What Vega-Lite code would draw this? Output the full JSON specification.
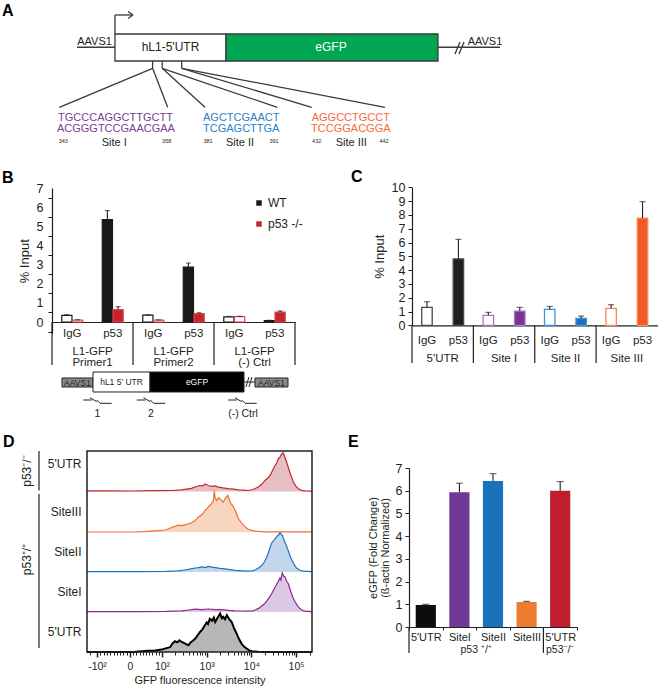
{
 "$schema": "https://vega.github.io/schema/vega-lite/v6.json",
 "width": 667,
 "height": 690,
 "autosize": {"type": "none"},
 "padding": 0,
 "background": "white",
 "config": {
  "view": {"stroke": null},
  "font": "Liberation Sans",
  "axis": {"grid": false, "labelFont": "Liberation Sans", "titleFont": "Liberation Sans", "labelColor": "#231f20", "titleColor": "#231f20", "domainColor": "#231f20", "tickColor": "#231f20", "titleFontWeight": "normal"},
  "legend": {"labelFont": "Liberation Sans"}
 },
 "resolve": {
  "scale": {"x": "independent", "y": "independent", "xOffset": "independent", "fill": "independent", "stroke": "independent", "color": "independent"},
  "axis": {"x": "independent", "y": "independent"},
  "legend": {"fill": "independent", "stroke": "independent", "color": "independent"}
 },
 "layer": [
  {
   "data": {"values": [
    {"k":"box","part":"utr","x":8.98,"x2":35.22,"y":63.57,"y2":82.86},
    {"k":"box","part":"gfp","x":35.22,"x2":85.34,"y":63.57,"y2":82.86},
    {"k":"line","x":0,"x2":8.98,"y":73.4,"y2":73.4},
    {"k":"line","x":85.34,"x2":100,"y":73.4,"y2":73.4},
    {"k":"line","x":8.98,"x2":8.98,"y":82.86,"y2":96.43},
    {"k":"line","x":8.98,"x2":13.24,"y":96.43,"y2":96.43},
    {"k":"line","x":12.06,"x2":13.24,"y":98.93,"y2":96.43},
    {"k":"line","x":12.06,"x2":13.24,"y":93.93,"y2":96.43},
    {"k":"line","x":89.36,"x2":90.54,"y":68.57,"y2":77.14},
    {"k":"line","x":90.31,"x2":91.49,"y":68.57,"y2":77.14},
    {"k":"line","x":17.87,"x2":17.87,"y":63.57,"y2":58.36},
    {"k":"line","x":20.14,"x2":20.14,"y":63.57,"y2":58.36},
    {"k":"line","x":24.75,"x2":24.75,"y":63.57,"y2":58.36},
    {"k":"line","x":17.87,"x2":-4.18,"y":58.36,"y2":30.5},
    {"k":"line","x":17.87,"x2":21.44,"y":58.36,"y2":30.5},
    {"k":"line","x":20.14,"x2":30.26,"y":58.36,"y2":30.5},
    {"k":"line","x":20.14,"x2":47.36,"y":58.36,"y2":30.5},
    {"k":"line","x":24.75,"x2":55.48,"y":58.36,"y2":30.5},
    {"k":"line","x":24.75,"x2":72.8,"y":58.36,"y2":30.5},
    {"k":"txt","fs":"m","role":"dark","t":"AAVS1","x":4.14,"y":76.8},
    {"k":"txt","fs":"m","role":"dark","t":"AAVS1","x":96.45,"y":76.8},
    {"k":"txt","fs":"l","role":"dark","t":"hL1-5'UTR","x":22.1,"y":73.4},
    {"k":"txt","fs":"l","role":"white","t":"eGFP","x":60.05,"y":73.4},
    {"k":"txt","fs":"m","role":"s1","t":"TGCCCAGGCTTGCTT","x":9.1,"y":23.07},
    {"k":"txt","fs":"m","role":"s1","t":"ACGGGTCCGAACGAA","x":9.2,"y":14.76},
    {"k":"txt","fs":"m","role":"s2","t":"AGCTCGAACT","x":38.82,"y":23.07},
    {"k":"txt","fs":"m","role":"s2","t":"TCGAGCTTGA","x":38.82,"y":14.76},
    {"k":"txt","fs":"m","role":"s3","t":"AGGCCTGCCT","x":64.73,"y":23.07},
    {"k":"txt","fs":"m","role":"s3","t":"TCCGGACGGA","x":64.73,"y":14.76},
    {"k":"txt","fs":"s","role":"dark","t":"343","x":-3.24,"y":6.64},
    {"k":"txt","fs":"s","role":"dark","t":"358","x":21.2,"y":6.64},
    {"k":"txt","fs":"s","role":"dark","t":"381","x":30.97,"y":6.64},
    {"k":"txt","fs":"s","role":"dark","t":"391","x":46.57,"y":6.64},
    {"k":"txt","fs":"s","role":"dark","t":"432","x":56.66,"y":6.64},
    {"k":"txt","fs":"s","role":"dark","t":"442","x":72.58,"y":6.64},
    {"k":"txt","fs":"m","role":"dark","t":"Site I","x":8.79,"y":5.0},
    {"k":"txt","fs":"m","role":"dark","t":"Site II","x":38.53,"y":5.0},
    {"k":"txt","fs":"m","role":"dark","t":"Site III","x":64.85,"y":5.0}
   ]},
   "encoding": {
    "x": {"field":"x","type":"quantitative","scale":{"domain":[0,100],"range":[77,500],"nice":false,"zero":false},"axis":null},
    "y": {"field":"y","type":"quantitative","scale":{"domain":[0,100],"range":[150,10],"nice":false,"zero":false},"axis":null}
   },
   "layer": [
    {"transform":[{"filter":"datum.k == 'box'"}],"mark":{"type":"rect","stroke":"#3a3a3a","strokeWidth":1.3},
     "encoding":{"x2":{"field":"x2"},"y2":{"field":"y2"},"fill":{"field":"part","type":"nominal","scale":{"domain":["utr","gfp"],"range":["white","#00a651"]},"legend":null}}},
    {"transform":[{"filter":"datum.k == 'line'"}],"mark":{"type":"rule","color":"#3a3a3a","strokeWidth":1.3},
     "encoding":{"x2":{"field":"x2"},"y2":{"field":"y2"}}},
    {"transform":[{"filter":"datum.k == 'txt' && datum.fs == 'm'"}],"mark":{"type":"text","fontSize":11,"baseline":"middle"},
     "encoding":{"text":{"field":"t"},"color":{"field":"role","type":"nominal","scale":{"domain":["dark","white","s1","s2","s3"],"range":["#231f20","white","#7a3d9a","#2a82c8","#f4693a"]},"legend":null}}},
    {"transform":[{"filter":"datum.k == 'txt' && datum.fs == 'l'"}],"mark":{"type":"text","fontSize":12,"baseline":"middle"},
     "encoding":{"text":{"field":"t"},"color":{"field":"role","type":"nominal","legend":null}}},
    {"transform":[{"filter":"datum.k == 'txt' && datum.fs == 's'"}],"mark":{"type":"text","fontSize":5.5,"baseline":"middle"},
     "encoding":{"text":{"field":"t"},"color":{"field":"role","type":"nominal","legend":null}}}
   ]
  },
  {
   "data": {"values": [
    {"k":"box","part":"aavs","x":8.46,"x2":20.38,"y":55,"y2":70},
    {"k":"box","part":"utr","x":20.38,"x2":42.31,"y":46.67,"y2":80},
    {"k":"box","part":"gfp","x":42.31,"x2":78.46,"y":46.67,"y2":80},
    {"k":"box","part":"aavs","x":82.69,"x2":95.38,"y":55,"y2":70},
    {"k":"line","x":78.46,"x2":82.69,"y":63.33,"y2":63.33},
    {"k":"line","x":79.23,"x2":80.38,"y":55,"y2":71.67},
    {"k":"line","x":80.38,"x2":81.54,"y":55,"y2":71.67},
    {"k":"line","x":16.65,"x2":19.88,"y":33.33,"y2":33.33},
    {"k":"line","x":19.23,"x2":21.81,"y":37.17,"y2":30.5},
    {"k":"line","x":21.81,"x2":23.08,"y":33.33,"y2":27.83},
    {"k":"line","x":23.08,"x2":27.58,"y":27.83,"y2":27.83},
    {"k":"line","x":37.23,"x2":40.46,"y":33.33,"y2":33.33},
    {"k":"line","x":39.81,"x2":42.38,"y":37.17,"y2":30.5},
    {"k":"line","x":42.38,"x2":43.65,"y":33.33,"y2":27.83},
    {"k":"line","x":43.65,"x2":48.15,"y":27.83,"y2":27.83},
    {"k":"line","x":72.42,"x2":75.65,"y":33.33,"y2":33.33},
    {"k":"line","x":75.0,"x2":77.58,"y":37.17,"y2":30.5},
    {"k":"line","x":77.58,"x2":78.85,"y":33.33,"y2":27.83},
    {"k":"line","x":78.85,"x2":83.35,"y":27.83,"y2":27.83},
    {"k":"txt","fs":"s","role":"dark","t":"AAVS1","x":14.42,"y":62.5},
    {"k":"txt","fs":"s","role":"dark","t":"hL1 5' UTR","x":31.35,"y":63.33},
    {"k":"txt","fs":"s","role":"white","t":"eGFP","x":60.38,"y":63.33},
    {"k":"txt","fs":"s","role":"dark","t":"AAVS1","x":89.04,"y":62.5},
    {"k":"txt","fs":"m","role":"dark","t":"1","x":22.12,"y":10},
    {"k":"txt","fs":"m","role":"dark","t":"2","x":42.69,"y":10},
    {"k":"txt","fs":"m","role":"dark","t":"(-) Ctrl","x":78.08,"y":10}
   ]},
   "encoding": {
    "x": {"field":"x","type":"quantitative","scale":{"domain":[0,100],"range":[40,300],"nice":false,"zero":false},"axis":null},
    "y": {"field":"y","type":"quantitative","scale":{"domain":[0,100],"range":[420,360],"nice":false,"zero":false},"axis":null}
   },
   "layer": [
    {"transform":[{"filter":"datum.k == 'box'"}],"mark":{"type":"rect","stroke":"#231f20","strokeWidth":1},
     "encoding":{"x2":{"field":"x2"},"y2":{"field":"y2"},"fill":{"field":"part","type":"nominal","scale":{"domain":["aavs","utr","gfp"],"range":["#8a8a8a","white","#000000"]},"legend":null}}},
    {"transform":[{"filter":"datum.k == 'line'"}],"mark":{"type":"rule","color":"#231f20","strokeWidth":1},
     "encoding":{"x2":{"field":"x2"},"y2":{"field":"y2"}}},
    {"transform":[{"filter":"datum.k == 'txt' && datum.fs == 's'"}],"mark":{"type":"text","fontSize":8.5,"baseline":"middle"},
     "encoding":{"text":{"field":"t"},"color":{"field":"role","type":"nominal","scale":{"domain":["dark","white"],"range":["#231f20","white"]},"legend":null}}},
    {"transform":[{"filter":"datum.k == 'txt' && datum.fs == 'm'"}],"mark":{"type":"text","fontSize":10.5,"baseline":"middle"},
     "encoding":{"text":{"field":"t"},"color":{"field":"role","type":"nominal","legend":null}}}
   ]
  },
  {
   "data": {"values": [
    {"grp":"P1|IgG","geno":"WT","ab":"IgG","val":0.35,"up":0.38},
    {"grp":"P1|IgG","geno":"p53 -/-","ab":"IgG","val":0.1,"up":0.12},
    {"grp":"P1|p53","geno":"WT","ab":"p53","val":5.35,"up":5.82},
    {"grp":"P1|p53","geno":"p53 -/-","ab":"p53","val":0.65,"up":0.8},
    {"grp":"P2|IgG","geno":"WT","ab":"IgG","val":0.36,"up":0.38},
    {"grp":"P2|IgG","geno":"p53 -/-","ab":"IgG","val":0.1,"up":0.11},
    {"grp":"P2|p53","geno":"WT","ab":"p53","val":2.87,"up":3.08},
    {"grp":"P2|p53","geno":"p53 -/-","ab":"p53","val":0.44,"up":0.48},
    {"grp":"C|IgG","geno":"WT","ab":"IgG","val":0.27,"up":0.29},
    {"grp":"C|IgG","geno":"p53 -/-","ab":"IgG","val":0.28,"up":0.3},
    {"grp":"C|p53","geno":"WT","ab":"p53","val":0.07,"up":0.09},
    {"grp":"C|p53","geno":"p53 -/-","ab":"p53","val":0.52,"up":0.58}
   ]},
   "layer": [
    {"mark":{"type":"bar","strokeWidth":1.2},
     "encoding":{
      "x":{"field":"grp","type":"nominal","sort":null,"scale":{"domain":["P1|IgG","P1|p53","P2|IgG","P2|p53","C|IgG","C|p53"],"range":[52,295],"paddingInner":0,"paddingOuter":0},
           "axis":{"orient":"bottom","offset":-368,"labelExpr":"indexof(datum.value, 'IgG') >= 0 ? 'IgG' : 'p53'","ticks":false,"domainWidth":1.2,"labelFontSize":11.5,"labelPadding":5,"labelAngle":0,"title":null}},
      "xOffset":{"field":"geno","type":"nominal","scale":{"domain":["WT","p53 -/-"],"paddingInner":0.05,"paddingOuter":0.91}},
      "y":{"field":"val","type":"quantitative","scale":{"domain":[-0.6,7],"range":[333.5,188],"nice":false,"zero":false},
           "axis":{"orient":"left","offset":-52,"values":[-0.5,0,0.5,1,1.5,2,2.5,3,3.5,4,4.5,5,5.5,6,6.5,7],"labelExpr":"datum.value % 1 == 0 ? format(datum.value, 'd') : ''","tickOpacity":{"condition":{"test":"datum.value % 1 != 0","value":1},"value":0},"tickSize":4,"labelFontSize":12.5,"labelPadding":5,"domainWidth":1.2,"title":"% Input","titleFontSize":13,"titlePadding":5}},
      "y2":{"datum":0},
      "fill":{"condition":{"test":"datum.ab == 'IgG'","value":"white"},"field":"geno","type":"nominal","scale":{"domain":["WT","p53 -/-"],"range":["#1a1a1a","#c8232b"]},
              "legend":{"orient":"none","legendX":253,"legendY":197,"title":null,"symbolType":"square","symbolSize":30,"labelFontSize":12,"rowPadding":9,"symbolStrokeWidth":0,"labelOffset":3,"labelColor":"#231f20"}},
      "stroke":{"field":"geno","type":"nominal","scale":{"domain":["WT","p53 -/-"],"range":["#1a1a1a","#e0464c"]},"legend":null}
     }},
    {"mark":{"type":"rule","color":"#231f20","strokeWidth":1.1},
     "encoding":{"x":{"field":"grp","type":"nominal"},"xOffset":{"field":"geno","type":"nominal"},"y":{"field":"val","type":"quantitative"},"y2":{"field":"up"}}},
    {"mark":{"type":"tick","color":"#231f20","thickness":1.1},
     "encoding":{"x":{"field":"grp","type":"nominal"},"xOffset":{"field":"geno","type":"nominal"},"y":{"field":"up","type":"quantitative"},"size":{"value":5}}},
    {"data":{"values":[{"grp":"P1|IgG","t":"L1-GFP\nPrimer1"},{"grp":"P2|IgG","t":"L1-GFP\nPrimer2"},{"grp":"C|IgG","t":"L1-GFP\n(-) Ctrl"}]},
     "mark":{"type":"text","lineBreak":"\n","fontSize":11.5,"lineHeight":10.5,"baseline":"middle","color":"#231f20"},
     "encoding":{"x":{"field":"grp","type":"nominal","bandPosition":1},"y":{"datum":-1.57},"text":{"field":"t"}}},
    {"data":{"values":[{"grp":"P1|IgG"},{"grp":"P2|IgG"},{"grp":"C|IgG"}]},
     "mark":{"type":"rule","color":"#231f20","strokeWidth":1.2},
     "encoding":{"x":{"field":"grp","type":"nominal","bandPosition":0},"y":{"datum":0},"y2":{"datum":-2.25}}},
    {"data":{"values":[{"grp":"C|p53"}]},
     "mark":{"type":"rule","color":"#231f20","strokeWidth":1.2},
     "encoding":{"x":{"field":"grp","type":"nominal","bandPosition":1},"y":{"datum":0},"y2":{"datum":-2.25}}}
   ]
  },
  {
   "data": {"values": [
    {"site":"5'UTR","ab":"IgG","val":1.3,"up":1.71},
    {"site":"5'UTR","ab":"p53","val":4.81,"up":6.23},
    {"site":"Site I","ab":"IgG","val":0.72,"up":0.94},
    {"site":"Site I","ab":"p53","val":1.03,"up":1.3},
    {"site":"Site II","ab":"IgG","val":1.15,"up":1.37},
    {"site":"Site II","ab":"p53","val":0.5,"up":0.67},
    {"site":"Site III","ab":"IgG","val":1.23,"up":1.49},
    {"site":"Site III","ab":"p53","val":7.76,"up":8.96}
   ]},
   "layer": [
    {"mark":{"type":"bar","strokeWidth":1.3},
     "encoding":{
      "x":{"field":"site","type":"nominal","sort":null,"scale":{"domain":["5'UTR","Site I","Site II","Site III"],"range":[412,657.5],"paddingInner":0,"paddingOuter":0},
           "axis":{"orient":"bottom","offset":-364.7,"ticks":false,"domainWidth":1.2,"labelFontSize":11.5,"labelPadding":27,"labelAngle":0,"title":null}},
      "xOffset":{"field":"ab","type":"nominal","scale":{"domain":["IgG","p53"],"paddingInner":0.667,"paddingOuter":0.31}},
      "y":{"field":"val","type":"quantitative","scale":{"domain":[0,10],"range":[325.3,187.3],"nice":false,"zero":false},
           "axis":{"orient":"left","offset":-412,"values":[0,1,2,3,4,5,6,7,8,9,10],"format":"d","tickSize":4,"labelFontSize":12.5,"labelPadding":3,"domainWidth":1.2,"title":"% Input","titleFontSize":13,"titlePadding":5}},
      "y2":{"datum":0},
      "fill":{"condition":{"test":"datum.ab == 'IgG'","value":"white"},"field":"site","type":"nominal","scale":{"domain":["5'UTR","Site I","Site II","Site III"],"range":["#231f20","#7a3594","#1f70bd","#f15a29"]},"legend":null},
      "stroke":{"field":"site","type":"nominal","scale":{"domain":["5'UTR","Site I","Site II","Site III"],"range":["#4a4a4a","#a574c6","#3d93dc","#f78a55"]},"legend":null}
     }},
    {"mark":{"type":"rule","color":"#231f20","strokeWidth":1.1},
     "encoding":{"x":{"field":"site","type":"nominal"},"xOffset":{"field":"ab","type":"nominal"},"y":{"field":"val","type":"quantitative"},"y2":{"field":"up"}}},
    {"mark":{"type":"tick","color":"#231f20","thickness":1.1},
     "encoding":{"x":{"field":"site","type":"nominal"},"xOffset":{"field":"ab","type":"nominal"},"y":{"field":"up","type":"quantitative"},"size":{"value":6}}},
    {"mark":{"type":"text","fontSize":11.5,"baseline":"middle","color":"#231f20"},
     "encoding":{"x":{"field":"site","type":"nominal"},"xOffset":{"field":"ab","type":"nominal"},"y":{"datum":-1.12},"text":{"field":"ab"}}},
    {"data":{"values":[{"site":"5'UTR"},{"site":"Site I"},{"site":"Site II"},{"site":"Site III"}]},
     "mark":{"type":"rule","color":"#231f20","strokeWidth":1.2},
     "encoding":{"x":{"field":"site","type":"nominal","bandPosition":0},"y":{"datum":0},"y2":{"datum":-2.73}}}
   ]
  },
  {
   "data": {"values": [
    {"u":0.322,"h":1.5},{"u":0.8,"h":1.5},{"u":1.3,"h":1.2},{"u":1.8,"h":2},{"u":2.2,"h":2.5},{"u":2.44,"h":4},{"u":2.55,"h":6},{"u":2.66,"h":8},{"u":2.75,"h":12},{"u":2.85,"h":15},{"u":2.92,"h":14},{"u":2.96,"h":19},{"u":3.03,"h":15},{"u":3.11,"h":13},{"u":3.18,"h":14},{"u":3.26,"h":11},{"u":3.36,"h":9},{"u":3.48,"h":7},{"u":3.6,"h":6},{"u":3.71,"h":4},{"u":3.82,"h":3.5},{"u":3.93,"h":2.5},{"u":4.04,"h":5},{"u":4.15,"h":11},{"u":4.23,"h":18},{"u":4.3,"h":27},{"u":4.36,"h":33},{"u":4.42,"h":40},{"u":4.47,"h":52},{"u":4.53,"h":65},{"u":4.57,"h":72},{"u":4.6,"h":82},{"u":4.64,"h":86},{"u":4.68,"h":94},{"u":4.71,"h":97},{"u":4.74,"h":88},{"u":4.79,"h":73},{"u":4.82,"h":62},{"u":4.86,"h":48},{"u":4.9,"h":36},{"u":4.94,"h":23},{"u":5.0,"h":13},{"u":5.05,"h":7},{"u":5.12,"h":3},{"u":5.2,"h":1.5},{"u":5.356,"h":1}
   ]},
   "mark":{"type":"area","color":"#dba3a9","line":{"color":"#c1272d","strokeWidth":1.2}},
   "encoding":{
    "x":{"field":"u","type":"quantitative","scale":{"domain":[0.322,5.356],"range":[87,312],"nice":false,"zero":false},"axis":null},
    "y":{"field":"h","type":"quantitative","scale":{"domain":[0,100],"range":[491.5,451.5],"nice":false,"zero":false},"axis":null}
   }
  },
  {
   "data": {"values": [
    {"u":0.322,"h":0},{"u":1.4,"h":0},{"u":1.62,"h":1},{"u":1.84,"h":3},{"u":2.07,"h":5},{"u":2.15,"h":8},{"u":2.22,"h":12},{"u":2.3,"h":14},{"u":2.36,"h":17},{"u":2.44,"h":16},{"u":2.51,"h":18},{"u":2.58,"h":20},{"u":2.66,"h":23},{"u":2.73,"h":28},{"u":2.81,"h":37},{"u":2.87,"h":42},{"u":2.92,"h":46},{"u":2.97,"h":55},{"u":3.0,"h":58},{"u":3.05,"h":64},{"u":3.11,"h":71},{"u":3.15,"h":78},{"u":3.17,"h":103},{"u":3.19,"h":85},{"u":3.22,"h":79},{"u":3.27,"h":86},{"u":3.3,"h":83},{"u":3.34,"h":78},{"u":3.37,"h":75},{"u":3.42,"h":84},{"u":3.47,"h":92},{"u":3.51,"h":80},{"u":3.54,"h":71},{"u":3.58,"h":66},{"u":3.62,"h":58},{"u":3.67,"h":45},{"u":3.71,"h":33},{"u":3.77,"h":24},{"u":3.82,"h":17},{"u":3.88,"h":11},{"u":3.93,"h":7},{"u":4.0,"h":4},{"u":4.08,"h":2},{"u":4.3,"h":0.5},{"u":5.356,"h":0.5}
   ]},
   "mark":{"type":"area","color":"#f5c3a2","line":{"color":"#f26b3a","strokeWidth":1.2}},
   "encoding":{
    "x":{"field":"u","type":"quantitative","scale":{"domain":[0.322,5.356],"range":[87,312],"nice":false,"zero":false},"axis":null},
    "y":{"field":"h","type":"quantitative","scale":{"domain":[0,100],"range":[532,492],"nice":false,"zero":false},"axis":null}
   }
  },
  {
   "data": {"values": [
    {"u":0.322,"h":1},{"u":1.5,"h":1},{"u":2.1,"h":1.5},{"u":2.36,"h":3},{"u":2.5,"h":5},{"u":2.62,"h":7},{"u":2.74,"h":10},{"u":2.82,"h":11},{"u":2.89,"h":13},{"u":2.96,"h":11},{"u":3.04,"h":14},{"u":3.12,"h":12},{"u":3.19,"h":11},{"u":3.3,"h":9},{"u":3.41,"h":8},{"u":3.52,"h":6},{"u":3.63,"h":4},{"u":3.78,"h":3},{"u":3.93,"h":2},{"u":4.02,"h":3},{"u":4.08,"h":5},{"u":4.16,"h":10},{"u":4.23,"h":16},{"u":4.29,"h":25},{"u":4.34,"h":36},{"u":4.4,"h":55},{"u":4.45,"h":72},{"u":4.51,"h":80},{"u":4.57,"h":89},{"u":4.61,"h":93},{"u":4.64,"h":98},{"u":4.67,"h":94},{"u":4.7,"h":90},{"u":4.73,"h":80},{"u":4.79,"h":64},{"u":4.85,"h":45},{"u":4.9,"h":31},{"u":4.96,"h":18},{"u":5.01,"h":10},{"u":5.08,"h":5},{"u":5.16,"h":2},{"u":5.356,"h":1}
   ]},
   "mark":{"type":"area","color":"#a9c4e2","line":{"color":"#1b75bc","strokeWidth":1.2}},
   "encoding":{
    "x":{"field":"u","type":"quantitative","scale":{"domain":[0.322,5.356],"range":[87,312],"nice":false,"zero":false},"axis":null},
    "y":{"field":"h","type":"quantitative","scale":{"domain":[0,100],"range":[572,532],"nice":false,"zero":false},"axis":null}
   }
  },
  {
   "data": {"values": [
    {"u":0.322,"h":1},{"u":1.5,"h":1},{"u":2.1,"h":1.5},{"u":2.44,"h":3},{"u":2.6,"h":5},{"u":2.74,"h":7},{"u":2.9,"h":6},{"u":3.04,"h":7.5},{"u":3.2,"h":6},{"u":3.34,"h":6},{"u":3.5,"h":4},{"u":3.63,"h":3},{"u":3.8,"h":2.5},{"u":3.93,"h":2},{"u":4.02,"h":3},{"u":4.08,"h":5},{"u":4.16,"h":9},{"u":4.23,"h":15},{"u":4.29,"h":20},{"u":4.34,"h":27},{"u":4.4,"h":36},{"u":4.45,"h":45},{"u":4.51,"h":58},{"u":4.57,"h":70},{"u":4.6,"h":76},{"u":4.64,"h":85},{"u":4.66,"h":80},{"u":4.69,"h":98},{"u":4.72,"h":90},{"u":4.75,"h":88},{"u":4.79,"h":77},{"u":4.83,"h":70},{"u":4.87,"h":55},{"u":4.9,"h":45},{"u":4.94,"h":34},{"u":4.98,"h":25},{"u":5.04,"h":14},{"u":5.09,"h":8},{"u":5.15,"h":4},{"u":5.2,"h":2},{"u":5.356,"h":1}
   ]},
   "mark":{"type":"area","color":"#cbb0d8","line":{"color":"#92278f","strokeWidth":1.2}},
   "encoding":{
    "x":{"field":"u","type":"quantitative","scale":{"domain":[0.322,5.356],"range":[87,312],"nice":false,"zero":false},"axis":null},
    "y":{"field":"h","type":"quantitative","scale":{"domain":[0,100],"range":[612,572],"nice":false,"zero":false},"axis":null}
   }
  },
  {
   "data": {"values": [
    {"u":0.322,"h":0},{"u":1.3,"h":0},{"u":1.4,"h":0.5},{"u":1.55,"h":2},{"u":1.69,"h":3},{"u":1.85,"h":4},{"u":1.99,"h":6},{"u":2.08,"h":9},{"u":2.18,"h":12},{"u":2.24,"h":22},{"u":2.29,"h":27},{"u":2.34,"h":24},{"u":2.39,"h":29},{"u":2.44,"h":25},{"u":2.5,"h":22},{"u":2.55,"h":19},{"u":2.59,"h":17},{"u":2.64,"h":24},{"u":2.69,"h":28},{"u":2.74,"h":33},{"u":2.8,"h":42},{"u":2.85,"h":50},{"u":2.9,"h":56},{"u":2.96,"h":67},{"u":3.0,"h":74},{"u":3.03,"h":70},{"u":3.07,"h":83},{"u":3.12,"h":78},{"u":3.16,"h":86},{"u":3.19,"h":75},{"u":3.24,"h":85},{"u":3.3,"h":96},{"u":3.34,"h":84},{"u":3.37,"h":88},{"u":3.41,"h":82},{"u":3.45,"h":92},{"u":3.5,"h":83},{"u":3.56,"h":75},{"u":3.61,"h":60},{"u":3.67,"h":46},{"u":3.72,"h":33},{"u":3.78,"h":21},{"u":3.84,"h":13},{"u":3.9,"h":8},{"u":3.95,"h":4},{"u":4.01,"h":2},{"u":4.15,"h":0.5},{"u":4.3,"h":0},{"u":5.356,"h":0}
   ]},
   "mark":{"type":"area","color":"#999999","line":{"color":"#000000","strokeWidth":2}},
   "encoding":{
    "x":{"field":"u","type":"quantitative","scale":{"domain":[0.322,5.356],"range":[87,312],"nice":false,"zero":false},
         "axis":{"orient":"bottom","offset":-38,"values":[0.38,0.62,0.694,0.767,0.841,0.915,0.989,1.063,1.136,1.21,1.356,1.427,1.499,1.57,1.642,1.714,1.785,1.857,1.928,2.301,2.477,2.602,2.699,2.778,2.845,2.903,2.954,3.301,3.477,3.602,3.699,3.778,3.845,3.903,3.954,4.301,4.477,4.602,4.699,4.778,4.845,4.903,4.954,5.301],"labels":false,"domain":false,"tickSize":3,"tickWidth":1,"title":null}},
    "y":{"field":"h","type":"quantitative","scale":{"domain":[0,100],"range":[652,612],"nice":false,"zero":false},"axis":null}
   }
  },
  {
   "layer": [
    {"data":{"values":[{"u1":0.322,"u2":5.356,"r1":0,"r2":5}]},
     "mark":{"type":"rect","fill":"white","fillOpacity":0,"stroke":"#231f20","strokeWidth":1.5},
     "encoding":{
      "x":{"field":"u1","type":"quantitative","scale":{"domain":[0.322,5.356],"range":[87,312],"nice":false,"zero":false},
           "axis":{"orient":"bottom","offset":-38,"values":[0.546,1.284,2,3,4,5],"labelExpr":"datum.value < 1 ? '-10²' : datum.value < 1.5 ? '0' : datum.value < 2.5 ? '10²' : datum.value < 3.5 ? '10³' : datum.value < 4.5 ? '10⁴' : '10⁵'","domain":false,"tickSize":5,"tickWidth":1.5,"labelFontSize":10.5,"labelPadding":4,"title":"GFP fluorescence intensity","titleFontSize":11,"titlePadding":3}},
      "x2":{"field":"u2"},
      "y":{"field":"r1","type":"quantitative","scale":{"domain":[0,5],"range":[652,451],"nice":false,"zero":false},
           "axis":{"orient":"left","offset":-87,"values":[0.5,1.5,2.5,3.5,4.7],"labelExpr":"datum.value < 1 ? \"5'UTR\" : datum.value < 2 ? 'SiteI' : datum.value < 3 ? 'SiteII' : datum.value < 4 ? 'SiteIII' : \"5'UTR\"","ticks":false,"domain":false,"labelFontSize":12,"labelPadding":6,"title":null}},
      "y2":{"field":"r2"}
     }},
    {"data":{"values":[{"u":-0.752,"r1":4.02,"r2":5},{"u":-0.752,"r1":0.1,"r2":3.93}]},
     "mark":{"type":"rule","color":"#231f20","strokeWidth":1.2},
     "encoding":{"x":{"field":"u","type":"quantitative"},"y":{"field":"r1","type":"quantitative"},"y2":{"field":"r2"}}},
    {"data":{"values":[{"u":-1.02,"r":4.5,"t":"p53⁻/⁻"},{"u":-1.02,"r":2.3,"t":"p53⁺/⁺"}]},
     "mark":{"type":"text","angle":270,"fontSize":12,"baseline":"middle","color":"#231f20"},
     "encoding":{"x":{"field":"u","type":"quantitative"},"y":{"field":"r","type":"quantitative"},"text":{"field":"t"}}}
   ]
  },
  {
   "data": {"values": [
    {"c":"UTRwt","val":0.97,"up":1.0},
    {"c":"SiteI","val":5.93,"up":6.33},
    {"c":"SiteII","val":6.43,"up":6.75},
    {"c":"SiteIII","val":1.1,"up":1.13},
    {"c":"UTRko","val":6.0,"up":6.4}
   ]},
   "layer": [
    {"mark":{"type":"bar","width":{"band":0.6}},
     "encoding":{
      "x":{"field":"c","type":"nominal","sort":null,"scale":{"domain":["UTRwt","SiteI","SiteII","SiteIII","UTRko"],"range":[409,577],"paddingInner":0,"paddingOuter":0},
           "axis":{"orient":"bottom","offset":-63,"labelExpr":"datum.value == 'UTRwt' || datum.value == 'UTRko' ? \"5'UTR\" : datum.value","tickBand":"extent","tickSize":3,"domainWidth":1.2,"labelFontSize":11,"labelPadding":1,"labelAngle":0,"title":null}},
      "y":{"field":"val","type":"quantitative","scale":{"domain":[0,7],"range":[627,468],"nice":false,"zero":false},
           "axis":{"orient":"left","offset":-409,"values":[0,1,2,3,4,5,6,7],"format":"d","tickSize":4,"labelFontSize":12.5,"labelPadding":3,"domainWidth":1.2,"title":["eGFP (Fold Change)","(ß-actin Normalized)"],"titleFontSize":11,"titleLineHeight":12,"titlePadding":5}},
      "y2":{"datum":0},
      "fill":{"field":"c","type":"nominal","scale":{"domain":["UTRwt","SiteI","SiteII","SiteIII","UTRko"],"range":["#0d0d0d","#6f3a96","#1a72ba","#ee7d31","#be1e2d"]},"legend":null}
     }},
    {"mark":{"type":"rule","color":"#231f20","strokeWidth":1.1},
     "encoding":{"x":{"field":"c","type":"nominal"},"y":{"field":"val","type":"quantitative"},"y2":{"field":"up"}}},
    {"mark":{"type":"tick","color":"#231f20","thickness":1.1},
     "encoding":{"x":{"field":"c","type":"nominal"},"y":{"field":"up","type":"quantitative"},"size":{"value":7}}},
    {"data":{"values":[{"c":"UTRwt"},{"c":"UTRko"}]},
     "mark":{"type":"rule","color":"#231f20","strokeWidth":1.2},
     "encoding":{"x":{"field":"c","type":"nominal","bandPosition":0},"y":{"datum":0},"y2":{"datum":-1.14}}},
    {"data":{"values":[{"c":"SiteII","t":"p53 ⁺/⁺"}]},
     "mark":{"type":"text","fontSize":10.5,"baseline":"middle","color":"#231f20"},
     "encoding":{"x":{"field":"c","type":"nominal","bandPosition":0},"y":{"datum":-1.0},"text":{"field":"t"}}},
    {"data":{"values":[{"c":"UTRko","t":"p53⁻/⁻"}]},
     "mark":{"type":"text","fontSize":10.5,"baseline":"middle","color":"#231f20"},
     "encoding":{"x":{"field":"c","type":"nominal","bandPosition":0.5},"y":{"datum":-1.0},"text":{"field":"t"}}}
   ]
  },
  {
   "data": {"values": [
    {"t":"A","x":0.3,"y":2.39},
    {"t":"B","x":0.3,"y":26.45},
    {"t":"C","x":52.62,"y":26.38},
    {"t":"D","x":0.45,"y":64.78},
    {"t":"E","x":52.17,"y":64.78}
   ]},
   "mark":{"type":"text","fontSize":16,"fontWeight":"bold","align":"left","baseline":"alphabetic","color":"#000000"},
   "encoding":{
    "x":{"field":"x","type":"quantitative","scale":{"domain":[0,100],"range":[0,667],"nice":false,"zero":false},"axis":null},
    "y":{"field":"y","type":"quantitative","scale":{"domain":[0,100],"range":[0,690],"nice":false,"zero":false},"axis":null},
    "text":{"field":"t"}
   }
  }
 ]
}
